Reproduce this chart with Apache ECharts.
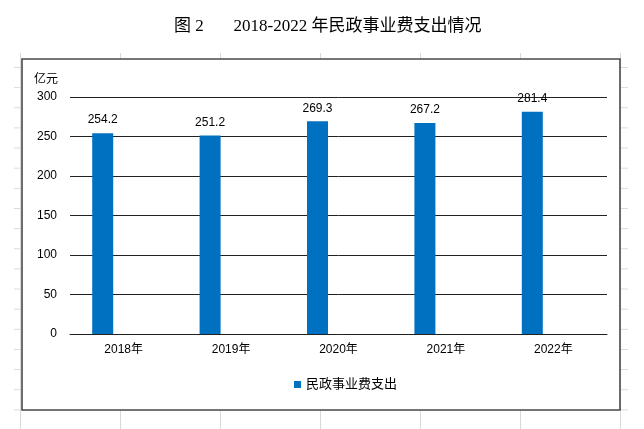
<!DOCTYPE html>
<html>
<head>
<meta charset="utf-8">
<script src="https://cdn.jsdelivr.net/npm/echarts@6/dist/echarts.min.js"></script>
<style>
  html, body { margin: 0; padding: 0; background: #fff; }
  /* faint spreadsheet cells peeking out around the chart box */
  #sheet {
    position: absolute; left: 14px; top: 53px; width: 614px; height: 376px;
    background-image:
      linear-gradient(to right, #d9d9d9 1px, transparent 1px),
      linear-gradient(to bottom, #d9d9d9 1px, transparent 1px);
    background-size: 100px 100%, 100% 20.15px;
    background-position: 6px 0, 0 14px;
  }
  #main { position: absolute; left: 0; top: 0; width: 644px; height: 429px; }
</style>
</head>
<body>
<div id="sheet"></div>
<div id="main"></div>
<script>
// 数据
var years = ['2018年', '2019年', '2020年', '2021年', '2022年'];
var spending = [254.2, 251.2, 269.3, 267.2, 281.4];
var emptySeries = [null, null, null, null, null];
var seriesName = '民政事业费支出';

var chart = echarts.init(document.getElementById('main'), null, { renderer: 'canvas' });

var numFont = '"Liberation Sans", "Noto Sans CJK SC", sans-serif';

var option = {
  animation: false,
  backgroundColor: 'transparent',
  title: {
    text: '图 2       2018-2022 年民政事业费支出情况',
    left: 169,
    top: 13,
    textStyle: {
      fontFamily: '"Liberation Serif", "Noto Sans CJK SC", serif',
      fontSize: 17,
      fontWeight: 'normal',
      color: '#000'
    }
  },
  graphic: {
    elements: [{
      type: 'rect',
      z: -10,
      shape: { x: 22, y: 59, width: 598, height: 351 },
      style: { fill: '#fff', stroke: '#4a4a4a', lineWidth: 1.6 }
    }]
  },
  legend: {
    data: [seriesName],
    left: 289,
    top: 373,
    icon: 'rect',
    itemWidth: 7,
    itemHeight: 7,
    itemGap: 10,
    textStyle: { fontSize: 13, color: '#000', fontFamily: numFont }
  },
  grid: {
    left: 70,
    right: 37,
    top: 97,
    bottom: 95
  },
  xAxis: {
    type: 'category',
    data: years,
    axisLine: { lineStyle: { color: '#222', width: 1 } },
    axisTick: { show: false },
    axisLabel: { color: '#000', fontSize: 12, margin: 10, fontFamily: numFont }
  },
  yAxis: {
    type: 'value',
    min: 0,
    max: 300,
    interval: 50,
    name: '亿元',
    nameLocation: 'end',
    nameGap: 17,
    nameTextStyle: {
      color: '#000', fontSize: 12, fontFamily: numFont,
      align: 'right', verticalAlign: 'middle', padding: [0, 12, 0, 0]
    },
    axisLine: { show: false },
    axisTick: { show: false },
    axisLabel: { color: '#000', fontSize: 12, margin: 13, fontFamily: numFont },
    splitLine: { lineStyle: { color: '#222', width: 1 } }
  },
  series: [{
    name: seriesName,
    type: 'bar',
    data: spending,
    barWidth: 21,
    barGap: '100%',
    itemStyle: { color: '#0070C0' },
    label: {
      show: true,
      position: 'top',
      distance: 7,
      color: '#000',
      fontSize: 12,
      fontFamily: numFont
    }
  }, {
    name: '',
    type: 'bar',
    data: emptySeries,
    barWidth: 21,
    barGap: '100%'
  }]
};

chart.setOption(option);
</script>
</body>
</html>
